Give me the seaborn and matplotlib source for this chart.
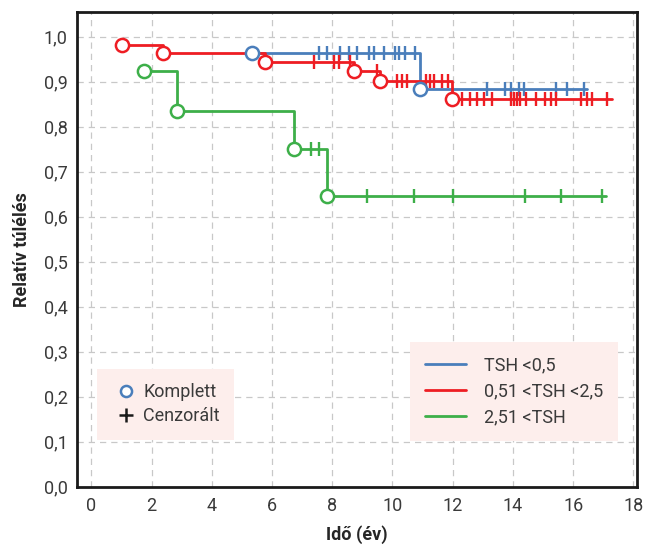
import numpy as np
import pandas as pd
import matplotlib
matplotlib.use("Agg")
import matplotlib.pyplot as plt
import seaborn as sns
from matplotlib.lines import Line2D

# groups and colours
groups = ["TSH <0,5", "0,51 <TSH <2,5", "2,51 <TSH"]
colors = ["#4a7ebb", "#ee1d23", "#3daf49"]

# TSH <0,5
blue_events = [5.34, 10.91]
blue_surv = [0.965, 0.884]
blue_censor = [7.55, 7.83, 8.27, 8.55, 8.83, 9.21, 9.38, 9.71, 10.10, 10.21, 10.43, 10.76,
               13.15, 13.75, 13.92, 14.20, 14.36, 15.42, 15.80, 16.36]
blue_end = 16.45

# 0,51 <TSH <2,5
red_events = [1.02, 2.38, 5.78, 8.71, 9.60, 11.98]
red_surv = [0.982, 0.965, 0.945, 0.923, 0.901, 0.861]
red_censor = [7.41, 8.05, 8.22, 8.58, 9.49, 10.16, 10.32, 10.49,
              11.10, 11.26, 11.37, 11.65, 11.85,
              12.32, 12.59, 12.81, 13.03, 13.31, 13.92, 14.03, 14.14, 14.25, 14.42,
              14.75, 15.08, 15.25, 15.42, 16.25, 16.47, 16.63, 17.13]
red_end = 17.30

# 2,51 <TSH
green_events = [1.74, 2.85, 6.72, 7.81]
green_surv = [0.923, 0.836, 0.750, 0.647]
green_censor = [7.28, 7.55, 9.14, 10.71, 12.02, 14.40, 15.61, 16.97]
green_end = 17.08

xticks = np.arange(0, 19, 2)
yticks = np.round(np.arange(0, 1.01, 0.1), 1)
ytick_labels = [f"{v:.1f}".replace(".", ",") for v in yticks]

series = [
    (blue_events, blue_surv, blue_censor, blue_end),
    (red_events, red_surv, red_censor, red_end),
    (green_events, green_surv, green_censor, green_end),
]

sns.set_style("white")
plt.rcParams["font.family"] = ["Roboto", "DejaVu Sans"]

fig = plt.figure(figsize=(6.54, 5.47), dpi=100)
ax = fig.add_axes([0.118, 0.110, 0.856, 0.868])

step_rows = []
cens_rows = []
event_rows = []
for name, (ev, sv, cs, end) in zip(groups, series):
    xs = list(ev) + [end]
    ys = list(sv) + [sv[-1]]
    step_rows.append(pd.DataFrame({"t": xs, "s": ys, "group": name}))
    # level of the step curve at each censored time
    idx = np.searchsorted(ev, cs, side="right") - 1
    cens_rows.append(pd.DataFrame({"t": cs, "s": np.array(sv)[idx], "group": name}))
    event_rows.append(pd.DataFrame({"t": ev, "s": sv, "group": name}))

steps = pd.concat(step_rows)
cens = pd.concat(cens_rows)
events = pd.concat(event_rows)
pal = dict(zip(groups, colors))

for name in groups:
    d = steps[steps.group == name]
    sns.lineplot(data=d, x="t", y="s", color=pal[name], lw=2.0, drawstyle="steps-post",
                 estimator=None, sort=False, ax=ax, zorder=3, legend=False)
for name in groups:
    d = cens[cens.group == name]
    ax.plot(d.t, d.s, ls="none", marker="|", ms=10, mew=1.7, color=pal[name], zorder=4)
for name in groups:
    d = events[events.group == name]
    ax.plot(d.t, d.s, ls="none", marker="o", ms=9.5, mew=1.8, mfc="white",
            mec=pal[name], zorder=5)

ax.set_xlim(-0.47, 18.12)
ax.set_ylim(0, 1.055)
ax.set_xticks(xticks)
ax.set_yticks(yticks)
ax.set_yticklabels(ytick_labels)
ax.grid(True, ls=(0, (5, 4)), color="#c8c8c8", lw=0.9)
ax.set_axisbelow(True)
ax.tick_params(length=0, labelsize=13, labelcolor="#3a3a3a", pad=7)
for sp in ax.spines.values():
    sp.set_visible(True)
    sp.set_color("#1a1a1a")
    sp.set_linewidth(2)

ax.set_xlabel("Idő (év)", fontsize=13, fontweight="bold", labelpad=8)
ax.set_ylabel("Relatív túlélés", fontsize=13, fontweight="bold", labelpad=9)

# legends
line_handles = [Line2D([], [], color=c, lw=2) for c in colors]
leg1 = ax.legend(line_handles, groups, loc="lower right", bbox_to_anchor=(0.966, 0.097),
                 fontsize=13, frameon=True, fancybox=False, facecolor="#fdeeec",
                 edgecolor="none", framealpha=1, handlelength=2.3, handletextpad=1.0,
                 labelspacing=0.45, borderpad=0.8, borderaxespad=0)
for t in leg1.get_texts():
    t.set_color("#3a3a3a")
ax.add_artist(leg1)

mark_handles = [
    Line2D([], [], ls="none", marker="o", ms=8, mew=1.8, mfc="white", mec=colors[0]),
    Line2D([], [], ls="none", marker="+", ms=10, mew=1.8, color="#1a1a1a"),
]
leg2 = ax.legend(mark_handles, ["Komplett", "Cenzorált"], loc="lower left",
                 bbox_to_anchor=(0.036, 0.099), fontsize=13, frameon=True, fancybox=False,
                 facecolor="#fdeeec", edgecolor="none", framealpha=1, handlelength=1.6,
                 handletextpad=0.15, labelspacing=0.35, borderpad=0.8, borderaxespad=0)
for t in leg2.get_texts():
    t.set_color("#3a3a3a")

fig.savefig("out.png", dpi=100)
